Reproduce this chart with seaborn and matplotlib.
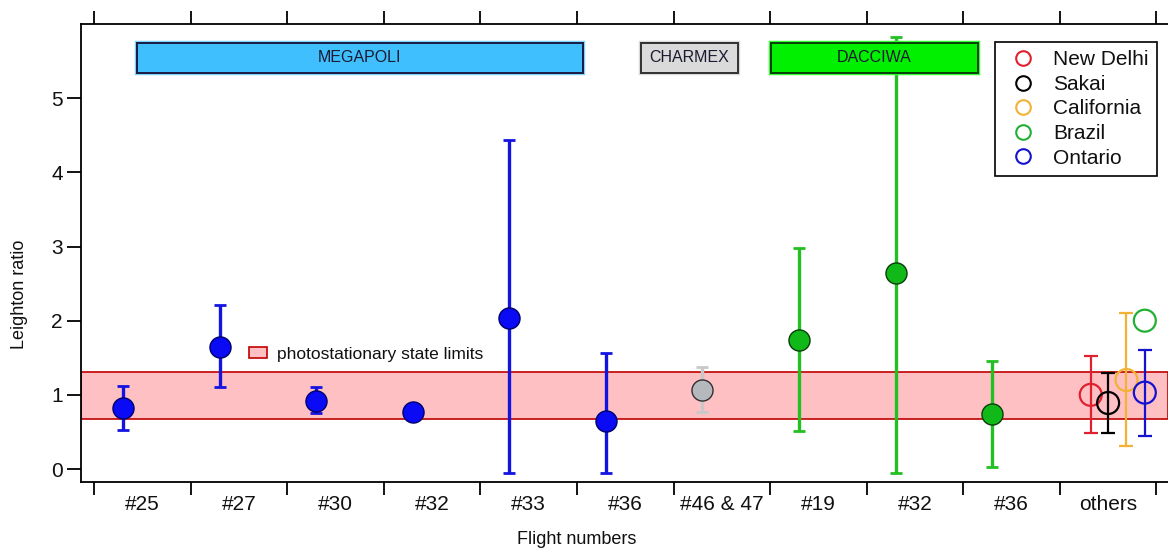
import matplotlib
matplotlib.use('Agg')
import matplotlib.pyplot as plt
from matplotlib.patches import Patch, Rectangle
from matplotlib.lines import Line2D
import numpy as np
import pandas as pd
import seaborn as sns

# flight data (Leighton ratio, lower / upper error bar ends)
flights = ['#25', '#27', '#30', '#32', '#33', '#36', '#46 & 47', '#19', '#32', '#36', 'others']
campaign = ['MEGAPOLI'] * 6 + ['CHARMEX'] + ['DACCIWA'] * 3
ratio = [0.82, 1.65, 0.92, 0.77, 2.03, 0.65, 1.06, 1.74, 2.64, 0.74]
ratio_low = [0.53, 1.10, 0.75, 0.74, -0.05, -0.05, 0.77, 0.51, -0.05, 0.03]
ratio_high = [1.12, 2.21, 1.10, 0.80, 4.43, 1.56, 1.37, 2.98, 5.82, 1.45]

# other studies
sites = ['New Delhi', 'Sakai', 'California', 'Brazil', 'Ontario']
site_ratio = [1.00, 0.89, 1.20, 2.00, 1.03]
site_low = [0.49, 0.49, 0.31, np.nan, 0.44]
site_high = [1.52, 1.30, 2.10, np.nan, 1.60]

pss_limits = [0.67, 1.31]

sns.set_style('ticks')
plt.rcParams['font.family'] = ['Liberation Sans', 'DejaVu Sans']
for key in ['text.color', 'axes.labelcolor', 'xtick.color', 'ytick.color']:
    plt.rcParams[key] = '#101010'

fill = {'MEGAPOLI': '#0A0AF5', 'CHARMEX': '#B5B9BD', 'DACCIWA': '#10B818'}
edge = {'MEGAPOLI': '#00006A', 'CHARMEX': '#303030', 'DACCIWA': '#0B3D0B'}
bar = {'MEGAPOLI': '#1414E0', 'CHARMEX': '#C8C8C8', 'DACCIWA': '#22C022'}
site_colors = ['#E0202E', '#000000', '#F2B234', '#22B034', '#1212D0']
site_offset = [-0.18, 0.0, 0.19, 0.38, 0.38]

df = pd.DataFrame({'flight': flights[:10], 'campaign': campaign, 'ratio': ratio,
                   'low': ratio_low, 'high': ratio_high})
df['x'] = np.arange(len(df)) - 0.2

others = pd.DataFrame({'site': sites, 'ratio': site_ratio, 'low': site_low, 'high': site_high})
others['x'] = flights.index('others') + np.array(site_offset)

fig = plt.figure(figsize=(11.68, 5.53), dpi=100)
ax = fig.add_axes([81 / 1168, 1 - 482 / 553, 1 - 81 / 1168, (482 - 24) / 553])

# photostationary band
ax.axhspan(pss_limits[0], pss_limits[1], fc='#FFC0C4', ec='#C00000', lw=1.2, zorder=1)

for name, grp in df.groupby('campaign', sort=False):
    ax.errorbar(grp['x'], grp['ratio'], yerr=[grp['ratio'] - grp['low'], grp['high'] - grp['ratio']],
                fmt='none', ecolor=bar[name], elinewidth=2.4, capsize=4, capthick=2, zorder=3)
    sns.scatterplot(data=grp, x='x', y='ratio', color=fill[name], edgecolor=edge[name],
                    linewidth=1, s=230, zorder=5, legend=False, ax=ax)

for i, row in others.iterrows():
    if not np.isnan(row['low']):
        ax.errorbar(row['x'], row['ratio'], yerr=[[row['ratio'] - row['low']], [row['high'] - row['ratio']]],
                    fmt='none', ecolor=site_colors[i], elinewidth=1.6, capsize=5, capthick=1.6, zorder=3)
sns.scatterplot(data=others, x='x', y='ratio', hue='site', palette=site_colors,
                s=250, linewidth=1.6, zorder=5, legend=False, ax=ax)
# open circles for the other studies
ax.collections[-1].set_facecolor('none')
ax.collections[-1].set_edgecolor(site_colors)

# campaign boxes
boxes = [('MEGAPOLI', -0.055, 4.56, '#40BFFF', '#1A1A40', '#7FD4FF'),
         ('CHARMEX', 5.16, 6.17, '#DADADA', '#303030', '#DADADA'),
         ('DACCIWA', 6.51, 8.65, '#00F000', '#0B3D0B', '#33FF33')]
for label, x0, x1, fc, ec, glow in boxes:
    ax.add_patch(Rectangle((x0, 5.34), x1 - x0, 0.41, fc=fc, ec=glow, lw=3.2, zorder=6))
    ax.add_patch(Rectangle((x0, 5.34), x1 - x0, 0.41, fc=fc, ec=ec, lw=1.4, zorder=7))
    ax.text((x0 + x1) / 2, 5.545, label, ha='center', va='center', fontsize=11.5,
            color='#1A1A30', zorder=8)

ax.set_xlim(-0.635, 10.62)
ax.set_ylim(-0.175, 6.0)

ax.set_xticks(np.arange(-0.5, 11, 1))
ax.set_xticks(np.arange(11), minor=True)
ax.set_xticklabels([])
ax.set_xticklabels(flights, minor=True)
ax.tick_params(axis='x', which='major', direction='out', length=9.5, width=1.3,
               top=True, bottom=True, labelbottom=False, color='black')
ax.tick_params(axis='x', which='minor', length=0, labelsize=15, pad=9)
ax.set_yticks(range(6))
ax.tick_params(axis='y', which='major', direction='out', length=10, width=1.3,
               labelsize=15, pad=3, color='black')

for side in ['left', 'top', 'bottom']:
    ax.spines[side].set_linewidth(1.3)
    ax.spines[side].set_color('black')
ax.spines['right'].set_visible(False)

ax.set_xlabel('Flight numbers', fontsize=13)
ax.set_ylabel('Leighton ratio', fontsize=13)
ax.xaxis.set_label_coords(0.456, -0.106)
ax.yaxis.set_label_coords(-0.049, 0.41)

band_leg = ax.legend(handles=[Patch(fc='#FFC0C4', ec='#C00000', lw=1.2)],
                     labels=['photostationary state limits'], loc='center left',
                     bbox_to_anchor=(0.155, 0.279), frameon=False, fontsize=12.5,
                     handlelength=1.0, handleheight=0.63, handletextpad=0.57,
                     borderaxespad=0, borderpad=0)
ax.add_artist(band_leg)

site_handles = [Line2D([], [], ls='none', marker='o', mfc='none', mec=c, ms=10.5, mew=1.5)
                for c in site_colors]
leg = ax.legend(handles=site_handles, labels=sites, loc='upper right',
                bbox_to_anchor=(0.990, 0.961), borderaxespad=0, fontsize=15,
                handlelength=1.9, handletextpad=0.5, labelspacing=0.27,
                fancybox=False, framealpha=1, edgecolor='black')
leg.get_frame().set_linewidth(1.2)

fig.savefig('out.png', dpi=100)
